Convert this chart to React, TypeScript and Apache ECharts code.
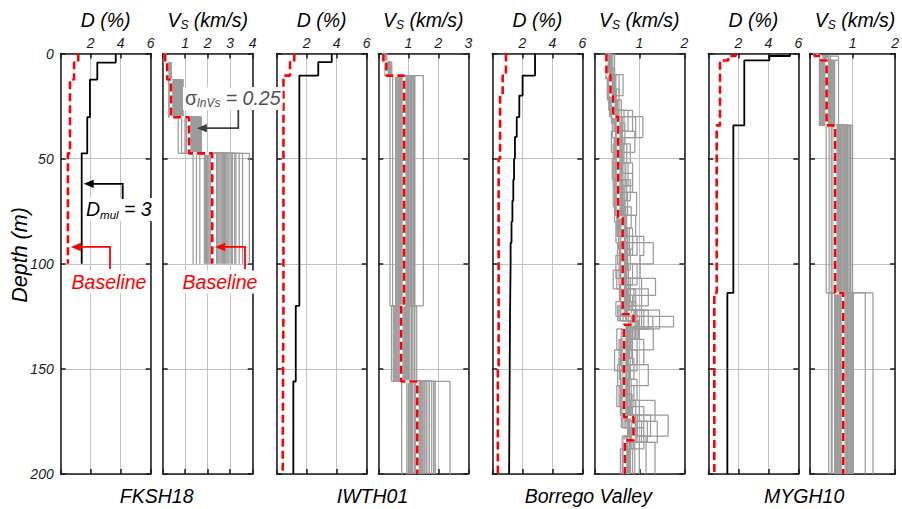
import React, { useEffect, useRef } from "react";
import * as echarts from "echarts";

const FONT = '"Liberation Sans", Arial, sans-serif';
const W = 902;
const H = 509;

// ---- panel geometry (pixels) ----
const PLOT_TOP = 53.5;
const PLOT_H = 420.5;
const PLOT_W = 90;
const PANEL_LEFT = [60.7, 162.7, 276.7, 378.3, 492.3, 594.3, 708.3, 810];

// ---- axes ----
const SITES = ["FKSH18", "IWTH01", "Borrego Valley", "MYGH10"];
const D_MAX = 6;
const D_INTERVAL = 2;
const VS_MAX = [4, 3, 2, 2];
const VS_INTERVAL = 1;
const DEPTH_MAX = 200;
const DEPTH_INTERVAL = 50;

// ---- FKSH18 ----
const FKSH18_LAYERS = [0, 4.3, 12.4, 30.3, 47.5, 100];
const FKSH18_D_MUL = [3.67, 2.44, 1.95, 1.77, 1.4];
const FKSH18_D_BASE = [1.17, 0.89, 0.62, 0.62, 0.48];
const FKSH18_VS_BASE = [0.1, 0.2, 0.37, 1.17, 2.2];
// one row per layer, one column per Vs realization
const FKSH18_VS_REAL = [
  [0.1, 0.12, 0.09, 0.11, 0.13, 0.1, 0.12, 0.14, 0.09, 0.11, 0.1, 0.13, 0.12, 0.11, 0.1, 0.09, 0.12, 0.13, 0.11, 0.1,
    0.11, 0.1, 0.12, 0.09, 0.11, 0.13, 0.1, 0.12, 0.11, 0.1, 0.12, 0.11],
  [0.26, 0.3, 0.22, 0.34, 0.28, 0.24, 0.36, 0.31, 0.27, 0.25, 0.33, 0.29, 0.38, 0.23, 0.3, 0.27, 0.32, 0.26, 0.35, 0.29,
    0.28, 0.31, 0.26, 0.33, 0.29, 0.35, 0.27, 0.3, 0.32, 0.28, 0.34, 0.3],
  [0.52, 0.3, 0.75, 0.44, 0.88, 0.61, 0.36, 0.69, 0.48, 0.82, 0.27, 0.57, 0.91, 0.4, 0.65, 0.33, 0.79, 0.55, 0.72, 0.46,
    0.35, 0.58, 0.81, 0.42, 0.67, 0.5, 0.86, 0.38, 0.74, 0.62, 0.45, 0.84],
  [1.3, 0.69, 1.55, 1.22, 1.66, 0.84, 1.4, 1.72, 1.26, 0.99, 1.48, 1.35, 1.6, 1.06, 1.44, 1.28, 1.52, 1.38, 1.68, 1.33,
    1.25, 1.58, 1.36, 1.7, 1.42, 1.31, 1.63, 1.5, 1.24, 1.46, 1.56, 1.34],
  [2.05, 2.6, 1.35, 2.9, 3.85, 2.2, 1.9, 3.1, 2.45, 1.65, 2.75, 3.4, 2.0, 2.55, 1.5, 3.2, 2.1, 3.55, 2.85, 2.4,
    1.85, 2.5, 2.95, 2.12, 2.65, 3.25, 1.95, 2.8, 2.42, 3.05, 2.15, 2.7],
];

// ---- IWTH01 ----
const IWTH01_LAYERS = [0, 4.1, 10.5, 120, 156, 200];
const IWTH01_D_MUL = [3.67, 2.77, 1.51, 1.27, 1.11];
const IWTH01_D_BASE = [1.17, 0.89, 0.45, 0.42, 0.4];
const IWTH01_VS_BASE = [0.17, 0.27, 0.86, 0.76, 1.3];
const IWTH01_VS_REAL = [
  [0.17, 0.2, 0.15, 0.22, 0.18, 0.25, 0.16, 0.19, 0.21, 0.14, 0.23, 0.18, 0.2, 0.17, 0.28, 0.19, 0.16, 0.22, 0.18, 0.2,
    0.18, 0.2, 0.17, 0.21, 0.19, 0.16, 0.2, 0.18, 0.22, 0.17, 0.19, 0.2],
  [0.3, 0.25, 0.38, 0.28, 0.42, 0.33, 0.22, 0.36, 0.27, 0.45, 0.31, 0.29, 0.4, 0.24, 0.34, 0.37, 0.26, 0.32, 0.39, 0.3,
    0.3, 0.34, 0.28, 0.36, 0.32, 0.29, 0.35, 0.31, 0.33, 0.27, 0.37, 0.3],
  [0.88, 0.62, 1.05, 0.39, 0.95, 1.18, 0.72, 0.48, 1.12, 0.82, 1.5, 0.68, 1.0, 0.92, 0.6, 1.22, 0.78, 1.08, 0.85, 0.98,
    0.65, 0.9, 1.15, 0.74, 1.02, 0.58, 0.96, 0.8, 1.2, 0.7, 0.87, 1.1],
  [0.72, 0.95, 0.5, 1.1, 0.8, 0.44, 1.2, 0.65, 0.9, 1.28, 0.58, 1.02, 0.76, 0.85, 1.15, 0.68, 0.98, 0.55, 0.88, 1.05,
    0.62, 0.9, 0.78, 1.12, 0.52, 0.95, 0.7, 1.22, 0.82, 0.6, 1.0, 0.74],
  [1.3, 1.55, 0.95, 1.85, 2.39, 1.1, 1.4, 0.78, 1.7, 1.2, 1.62, 1.02, 1.9, 1.35, 1.15, 1.48, 1.25, 1.78, 1.05, 1.42,
    1.0, 1.32, 1.6, 1.12, 1.45, 1.85, 1.22, 1.52, 1.08, 1.38, 1.7, 1.28],
];

// ---- Borrego Valley ----
const BORREGO_D_LAYERS = [0, 10.5, 20, 30.3, 39.7, 50, 60, 70, 80, 90, 100, 125, 150, 175, 200];
const BORREGO_D_MUL = [2.85, 2.02, 1.8, 1.63, 1.51, 1.45, 1.4, 1.34, 1.28, 1.22, 1.18, 1.16, 1.14, 1.12];
const BORREGO_DB_LAYERS = [0, 10.5, 20, 50, 150, 200];
const BORREGO_D_BASE = [0.91, 0.69, 0.52, 0.42, 0.37];
const BORREGO_VS_LAYERS = [0, 10, 20, 30, 78, 124, 129, 173, 184, 200];
const BORREGO_VS_BASE = [0.27, 0.36, 0.42, 0.53, 0.63, 0.87, 0.66, 0.87, 0.68];
// realizations cycle through three layerings
const BORREGO_REAL_LAYERS = [
  [0, 10, 20, 30, 40, 50, 60, 70, 80, 90, 100, 110, 118, 125, 130, 145, 155, 165, 175, 185, 200],
  [0, 7, 17, 27, 37, 47, 57, 66, 77, 87, 96, 107, 115, 122, 131, 141, 151, 162, 172, 182, 200],
  [0, 12, 22, 33, 43, 52, 63, 73, 83, 93, 103, 112, 120, 127, 136, 148, 158, 168, 178, 188, 200],
];
const BORREGO_VS_REAL = [
  [0.28, 0.33, 0.26, 0.38, 0.3, 0.45, 0.27, 0.35, 0.31, 0.29, 0.41, 0.26, 0.34, 0.32, 0.37, 0.28, 0.3, 0.27, 0.32, 0.29, 0.35, 0.28, 0.31, 0.33],
  [0.36, 0.42, 0.3, 0.64, 0.38, 0.33, 0.48, 0.4, 0.29, 0.55, 0.37, 0.44, 0.32, 0.39, 0.35, 0.46, 0.38, 0.34, 0.42, 0.36, 0.4, 0.33, 0.45, 0.37],
  [0.4, 0.35, 0.52, 0.44, 0.32, 0.6, 0.38, 0.47, 0.42, 0.36, 0.55, 0.41, 0.34, 0.49, 0.45, 0.39, 0.43, 0.38, 0.46, 0.4, 0.5, 0.37, 0.44, 0.41],
  [0.52, 0.45, 0.68, 1.08, 0.48, 0.58, 0.4, 0.75, 0.55, 0.92, 0.44, 0.62, 0.5, 0.85, 0.47, 0.6, 0.55, 0.5, 0.62, 0.46, 0.58, 0.52, 0.66, 0.54],
  [0.48, 0.55, 0.42, 0.66, 0.9, 0.5, 0.6, 0.38, 0.72, 0.46, 0.58, 0.8, 0.44, 0.53, 0.64, 0.49, 0.52, 0.58, 0.47, 0.62, 0.55, 0.5, 0.6, 0.54],
  [0.55, 0.46, 0.7, 0.4, 0.62, 0.85, 0.5, 0.58, 0.44, 0.66, 0.52, 0.75, 0.48, 0.6, 0.42, 0.56, 0.54, 0.6, 0.5, 0.58, 0.47, 0.62, 0.56, 0.52],
  [0.5, 0.6, 0.45, 0.72, 0.55, 0.42, 0.8, 0.52, 0.64, 0.48, 0.58, 0.68, 0.46, 0.85, 0.54, 0.62, 0.56, 0.52, 0.62, 0.5, 0.58, 0.66, 0.54, 0.6],
  [0.58, 0.48, 0.66, 0.52, 0.94, 0.6, 0.45, 0.74, 0.55, 0.62, 0.5, 0.82, 0.57, 0.47, 0.7, 0.63, 0.6, 0.55, 0.65, 0.58, 0.52, 0.68, 0.62, 0.57],
  [0.62, 0.55, 0.74, 0.48, 0.66, 0.85, 0.58, 0.52, 0.7, 0.6, 0.92, 0.54, 0.64, 0.5, 0.78, 0.68, 0.64, 0.6, 0.7, 0.58, 0.66, 0.62, 0.72, 0.6],
  [0.65, 0.58, 0.8, 1.31, 0.62, 0.7, 0.52, 0.95, 0.68, 0.6, 1.1, 0.74, 0.56, 0.85, 0.64, 0.72, 0.68, 0.62, 0.74, 0.66, 0.7, 0.64, 0.78, 0.67],
  [0.6, 0.72, 0.5, 0.85, 0.64, 0.42, 0.95, 0.58, 0.68, 0.55, 1.02, 0.62, 0.76, 0.48, 0.66, 0.7, 0.64, 0.6, 0.7, 0.58, 0.66, 0.72, 0.62, 0.68],
  [0.7, 0.62, 0.88, 0.56, 1.36, 0.74, 0.66, 1.05, 0.6, 0.8, 0.68, 1.2, 0.58, 0.72, 0.92, 0.64, 0.7, 0.66, 0.76, 0.64, 0.72, 0.68, 0.8, 0.7],
  [0.66, 0.78, 0.55, 0.92, 0.62, 0.7, 0.48, 1.05, 0.72, 0.6, 0.85, 0.58, 0.68, 0.75, 0.52, 0.82, 0.68, 0.64, 0.74, 0.62, 0.7, 0.66, 0.76, 0.7],
  [0.9, 1.1, 0.8, 1.76, 0.95, 0.85, 1.3, 0.88, 1.0, 0.76, 1.45, 0.92, 0.82, 1.2, 0.98, 0.87, 0.92, 0.86, 1.0, 0.9, 0.95, 0.84, 1.05, 0.9],
  [0.68, 0.6, 0.85, 0.72, 1.31, 0.55, 0.78, 0.64, 0.95, 0.7, 0.5, 1.1, 0.66, 0.74, 0.58, 0.82, 0.7, 0.66, 0.76, 0.64, 0.72, 0.68, 0.8, 0.7],
  [0.64, 0.72, 0.52, 0.88, 0.6, 1.2, 0.68, 0.45, 0.78, 0.62, 0.95, 0.7, 0.56, 0.75, 0.66, 0.8, 0.68, 0.64, 0.72, 0.62, 0.7, 0.66, 0.76, 0.67],
  [0.66, 0.58, 0.78, 0.62, 0.72, 0.5, 0.95, 0.68, 0.6, 0.82, 0.64, 0.55, 0.74, 0.7, 0.88, 0.63, 0.68, 0.64, 0.72, 0.66, 0.7, 0.62, 0.75, 0.67],
  [0.7, 0.82, 0.6, 1.35, 0.74, 0.66, 0.92, 0.58, 1.1, 0.72, 0.64, 0.85, 0.68, 0.78, 0.62, 1.0, 0.74, 0.7, 0.8, 0.68, 0.76, 0.72, 0.84, 0.73],
  [0.9, 0.76, 1.1, 0.85, 1.64, 0.8, 0.95, 1.25, 0.78, 1.4, 0.88, 0.82, 1.05, 0.92, 0.74, 1.18, 0.85, 0.8, 0.92, 0.78, 0.88, 0.82, 0.96, 0.86],
  [0.7, 0.62, 0.85, 0.74, 1.0, 0.66, 1.35, 0.72, 0.58, 0.9, 0.68, 0.8, 0.64, 1.15, 0.76, 0.7, 0.72, 0.68, 0.78, 0.66, 0.74, 0.7, 0.8, 0.73],
];

// ---- MYGH10 ----
const MYGH10_LAYERS = [0, 1.2, 3.3, 34.2, 113.9, 200];
const MYGH10_D_MUL = [5.45, 4.07, 2.4, 1.67, 1.27];
const MYGH10_D_BASE = [1.83, 1.33, 0.78, 0.56, 0.4];
const MYGH10_VS_BASE = [0.11, 0.26, 0.39, 0.59, 0.78];
const MYGH10_VS_REAL = [
  [0.11, 0.14, 0.09, 0.16, 0.12, 0.1, 0.18, 0.13, 0.11, 0.15, 0.12, 0.2, 0.1, 0.14, 0.13, 0.11, 0.17, 0.12, 0.15, 0.1,
    0.12, 0.1, 0.13, 0.11, 0.14, 0.12, 0.1, 0.13, 0.11, 0.12, 0.15, 0.11],
  [0.3, 0.22, 0.44, 0.28, 0.35, 0.25, 0.67, 0.32, 0.27, 0.4, 0.24, 0.36, 0.3, 0.48, 0.26, 0.33, 0.29, 0.38, 0.23, 0.31,
    0.28, 0.32, 0.25, 0.35, 0.3, 0.27, 0.33, 0.29, 0.36, 0.26, 0.31, 0.34],
  [0.4, 0.3, 0.52, 0.25, 0.45, 0.35, 0.58, 0.28, 0.42, 0.67, 0.33, 0.48, 0.38, 0.22, 0.55, 0.36, 0.44, 0.31, 0.5, 0.41,
    0.3, 0.45, 0.38, 0.52, 0.26, 0.42, 0.35, 0.48, 0.32, 0.56, 0.4, 0.46],
  [0.7, 0.5, 0.85, 0.62, 0.95, 0.38, 0.78, 1.0, 0.66, 0.88, 0.45, 0.74, 0.92, 0.58, 0.82, 0.68, 0.96, 0.54, 0.8, 0.72,
    0.66, 0.84, 0.75, 0.92, 0.7, 0.88, 0.64, 0.8, 0.95, 0.73, 0.86, 0.78],
  [0.8, 0.62, 0.95, 0.5, 1.3, 0.72, 0.88, 0.44, 1.02, 0.68, 1.48, 0.78, 0.92, 0.58, 0.85, 1.0, 0.75, 0.65, 0.9, 0.82,
    0.6, 0.85, 0.72, 0.95, 0.52, 0.8, 0.68, 0.9, 0.76, 0.62, 0.98, 0.7],
];

// ---- styles ----
const INK = "#1a1a1a";
const RED = "#ff0000";
const GRAY_PROFILE = "#9c9c9c";
const GRID_GRAY = "#c2c2c2";
const SIGMA_GRAY = "#505050";

type Pt = [number, number];

// step profile: value held constant over each layer
function stepPath(depths: number[], vals: number[]): Pt[] {
  const pts: Pt[] = [];
  for (let i = 0; i < vals.length; i++) {
    pts.push([vals[i], depths[i]]);
    pts.push([vals[i], depths[i + 1]]);
  }
  return pts;
}

function column(rows: number[][], k: number): number[] {
  return rows.map((r) => r[k]);
}

const px = (panel: number, v: number, max: number) => PANEL_LEFT[panel] + (v / max) * PLOT_W;
const py = (d: number) => PLOT_TOP + (d / DEPTH_MAX) * PLOT_H;

let measureCtx: CanvasRenderingContext2D | null = null;
function textWidth(t: string, size: number, style: string) {
  if (!measureCtx) measureCtx = document.createElement("canvas").getContext("2d");
  if (!measureCtx) return t.length * size * 0.55;
  measureCtx.font = `${style} ${size}px ${FONT}`;
  return measureCtx.measureText(t).width;
}

type Piece = { text: string; size: number; dy: number; style?: string };

// horizontal run of text pieces (used for subscripts)
function composed(
  pieces: Piece[],
  x: number,
  y: number,
  align: "left" | "center",
  fill: string,
  background = false
) {
  const widths = pieces.map((p) => textWidth(p.text, p.size, p.style || "italic"));
  const total = widths.reduce((a, b) => a + b, 0);
  let cx = align === "center" ? x - total / 2 : x;
  const els: any[] = [];
  if (background) {
    els.push({
      type: "rect",
      z: 100,
      shape: { x: cx - 2, y: y - 11, width: total + 4, height: 23 },
      style: { fill: "#ffffff" },
    });
  }
  pieces.forEach((p, i) => {
    els.push({
      type: "text",
      z: 101,
      x: cx,
      y: y + p.dy,
      style: {
        text: p.text,
        fill,
        fontFamily: FONT,
        fontSize: p.size,
        fontStyle: p.style || "italic",
        textAlign: "left",
        textVerticalAlign: "middle",
        verticalAlign: "middle",
      },
    });
    cx += widths[i];
  });
  return els;
}

function arrow(points: Pt[], color: string, width = 1.8) {
  const [tx, ty] = points[points.length - 1];
  const [sx] = points[points.length - 2];
  const dir = sx > tx ? 1 : -1;
  const shaft = points.slice(0, -1).concat([[tx + dir * 7, ty]]);
  return [
    { type: "polyline", z: 102, shape: { points: shaft }, style: { stroke: color, lineWidth: width, fill: null } },
    {
      type: "polygon",
      z: 102,
      shape: { points: [[tx, ty], [tx + dir * 10, ty - 4.2], [tx + dir * 10, ty + 4.2]] },
      style: { fill: color },
    },
  ];
}

function buildOption() {
  const grids: any[] = [];
  const xAxes: any[] = [];
  const yAxes: any[] = [];
  const series: any[] = [];

  const labelFont = { fontFamily: FONT, fontStyle: "italic", fontSize: 14, color: INK };
  const axisLine = { show: true, onZero: false, lineStyle: { color: INK, width: 1.5 } };
  const axisTick = { show: true, inside: true, length: 5, lineStyle: { color: INK, width: 1.5 } };

  for (let p = 0; p < 8; p++) {
    const isD = p % 2 === 0;
    const site = Math.floor(p / 2);
    const max = isD ? D_MAX : VS_MAX[site];
    const interval = isD ? D_INTERVAL : VS_INTERVAL;
    grids.push({ left: PANEL_LEFT[p], top: PLOT_TOP, width: PLOT_W, height: PLOT_H });
    xAxes.push({
      gridIndex: p,
      type: "value",
      position: "top",
      min: 0,
      max,
      interval,
      axisLine,
      axisTick,
      axisLabel: { ...labelFont, margin: 4, formatter: (v: number) => (v === 0 ? "" : String(v)) },
      splitLine: { show: true, lineStyle: { color: GRID_GRAY, width: 1 } },
    });
    xAxes.push({
      gridIndex: p,
      type: "value",
      position: "bottom",
      min: 0,
      max,
      interval,
      axisLine,
      axisTick,
      axisLabel: { show: false },
      splitLine: { show: false },
    });
    yAxes.push({
      gridIndex: p,
      type: "value",
      position: "left",
      inverse: true,
      min: 0,
      max: DEPTH_MAX,
      interval: DEPTH_INTERVAL,
      axisLine,
      axisTick,
      axisLabel: { show: p === 0, ...labelFont, margin: 7 },
      splitLine: { show: true, lineStyle: { color: GRID_GRAY, width: 1 } },
    });
    yAxes.push({
      gridIndex: p,
      type: "value",
      position: "right",
      inverse: true,
      min: 0,
      max: DEPTH_MAX,
      interval: DEPTH_INTERVAL,
      axisLine,
      axisTick,
      axisLabel: { show: false },
      splitLine: { show: false },
    });
  }

  const base = { type: "line", symbol: "none", silent: true, animation: false };
  const onPanel = (p: number) => ({ xAxisIndex: 2 * p, yAxisIndex: 2 * p });

  const addGray = (p: number, depths: number[] | ((k: number) => number[]), rows: number[][]) => {
    const n = rows[0].length;
    for (let k = 0; k < n; k++) {
      const d = typeof depths === "function" ? depths(k) : depths;
      series.push({
        ...base,
        ...onPanel(p),
        z: 2,
        data: stepPath(d, column(rows, k)),
        lineStyle: { color: GRAY_PROFILE, width: 1.25 },
      });
    }
  };
  const addBlack = (p: number, depths: number[], vals: number[]) =>
    series.push({ ...base, ...onPanel(p), z: 3, data: stepPath(depths, vals), lineStyle: { color: "#000", width: 1.8 } });
  const addRed = (p: number, depths: number[], vals: number[], underlay: boolean) => {
    if (underlay)
      series.push({ ...base, ...onPanel(p), z: 4, data: stepPath(depths, vals), lineStyle: { color: "#fff", width: 2.6 } });
    series.push({
      ...base,
      ...onPanel(p),
      z: 5,
      data: stepPath(depths, vals),
      lineStyle: { color: RED, width: 2.6, type: [8, 4], cap: "butt" },
    });
  };

  // FKSH18
  addBlack(0, FKSH18_LAYERS, FKSH18_D_MUL);
  addRed(0, FKSH18_LAYERS, FKSH18_D_BASE, false);
  addGray(1, FKSH18_LAYERS, FKSH18_VS_REAL);
  addRed(1, FKSH18_LAYERS, FKSH18_VS_BASE, true);
  // IWTH01
  addBlack(2, IWTH01_LAYERS, IWTH01_D_MUL);
  addRed(2, IWTH01_LAYERS, IWTH01_D_BASE, false);
  addGray(3, IWTH01_LAYERS, IWTH01_VS_REAL);
  addRed(3, IWTH01_LAYERS, IWTH01_VS_BASE, true);
  // Borrego Valley
  addBlack(4, BORREGO_D_LAYERS, BORREGO_D_MUL);
  addRed(4, BORREGO_DB_LAYERS, BORREGO_D_BASE, false);
  addGray(5, (k) => BORREGO_REAL_LAYERS[k % BORREGO_REAL_LAYERS.length], BORREGO_VS_REAL);
  addRed(5, BORREGO_VS_LAYERS, BORREGO_VS_BASE, true);
  // MYGH10
  addBlack(6, MYGH10_LAYERS, MYGH10_D_MUL);
  addRed(6, MYGH10_LAYERS, MYGH10_D_BASE, false);
  addGray(7, MYGH10_LAYERS, MYGH10_VS_REAL);
  addRed(7, MYGH10_LAYERS, MYGH10_VS_BASE, true);

  // ---- texts ----
  const T = 19.5;
  const graphics: any[] = [];
  for (let p = 0; p < 8; p++) {
    const cx = PANEL_LEFT[p] + PLOT_W / 2;
    if (p % 2 === 0) graphics.push(...composed([{ text: "D (%)", size: T, dy: 0 }], cx, 20, "center", "#000"));
    else
      graphics.push(
        ...composed(
          [
            { text: "V", size: T, dy: 0 },
            { text: "S", size: 12, dy: 5 },
            { text: " (km/s)", size: T, dy: 0 },
          ],
          cx,
          20,
          "center",
          "#000"
        )
      );
  }
  SITES.forEach((s, i) => {
    const cx = (PANEL_LEFT[2 * i] + PANEL_LEFT[2 * i + 1] + PLOT_W) / 2;
    graphics.push(...composed([{ text: s, size: T, dy: 0 }], cx, 496, "center", "#000"));
  });
  graphics.push({
    type: "text",
    z: 101,
    x: 20,
    y: 255,
    rotation: Math.PI / 2,
    style: {
      text: "Depth (m)",
      fill: "#000",
      fontFamily: FONT,
      fontSize: 21.5,
      fontStyle: "italic",
      textAlign: "center",
      textVerticalAlign: "middle",
      verticalAlign: "middle",
    },
  });

  // annotations
  const y62 = py(62);
  graphics.push(...arrow([[122.7, 199], [122.7, y62], [px(0, 1.4, D_MAX) + 2, y62]], "#000"));
  graphics.push(
    ...composed(
      [
        { text: "D", size: T, dy: 0 },
        { text: "mul", size: 11.5, dy: 6 },
        { text: " = 3", size: T, dy: 0 },
      ],
      86,
      209,
      "left",
      "#000",
      true
    )
  );
  const y92 = py(92);
  graphics.push(...arrow([[110, 269], [110, y92], [px(0, 0.48, D_MAX) + 3, y92]], RED));
  graphics.push(...arrow([[245, 269], [245, y92], [px(1, 2.2, VS_MAX[0]) + 3, y92]], RED));
  graphics.push(...composed([{ text: "Baseline", size: T, dy: 0 }], 109, 281.5, "center", RED, true));
  graphics.push(...composed([{ text: "Baseline", size: T, dy: 0 }], 220, 281.5, "center", RED, true));
  const y35 = py(35.5);
  graphics.push(...arrow([[238.3, 110], [238.3, y35], [px(1, 1.52, VS_MAX[0]), y35]], "#404040"));
  graphics.push(
    ...composed(
      [
        { text: "σ", size: T, dy: 0, style: "normal" },
        { text: "lnVs", size: 12, dy: 5 },
        { text: " = 0.25", size: T, dy: 0 },
      ],
      185,
      98,
      "left",
      SIGMA_GRAY,
      true
    )
  );

  return {
    animation: false,
    backgroundColor: "#ffffff",
    grid: grids,
    xAxis: xAxes,
    yAxis: yAxes,
    series,
    graphic: { elements: graphics },
  };
}

export default function App() {
  const ref = useRef<HTMLDivElement>(null);
  useEffect(() => {
    if (!ref.current) return;
    const chart = echarts.init(ref.current, undefined, { renderer: "svg" });
    chart.setOption(buildOption() as any);
    return () => chart.dispose();
  }, []);
  return (
    <div
      ref={ref}
      style={{ position: "fixed", left: 0, top: 0, width: W, height: H, background: "#fff" }}
    />
  );
}
